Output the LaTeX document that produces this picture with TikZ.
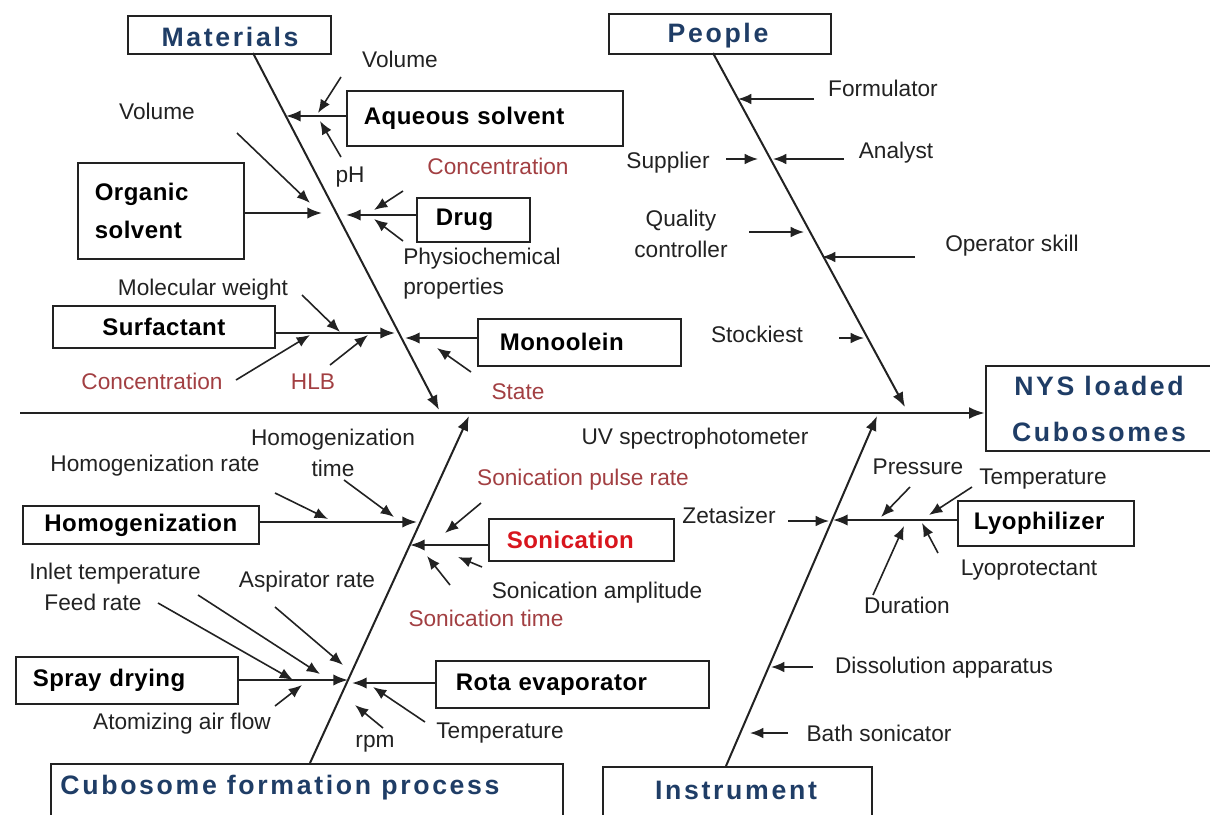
\documentclass[tikz,border=0pt]{standalone}
\usepackage{fontspec}
\setmainfont{Liberation Sans}
\newfontfamily\ttlfamily[LetterSpace=10]{Liberation Sans}
\newfontfamily\boxfamily[LetterSpace=2]{Liberation Sans}
\usetikzlibrary{arrows.meta,calc,positioning}
\definecolor{ttlblue}{HTML}{1F3D66}
\definecolor{lblred}{HTML}{A23F42}
\definecolor{sonred}{HTML}{D8151D}
\definecolor{inkgray}{HTML}{222222}

\begin{document}
\begin{tikzpicture}[x=0.75pt,y=-0.75pt,
  spine/.style={line width=2.1pt,draw=inkgray,-{Latex[length=12pt,width=9pt]}},
  bone/.style={line width=1.5pt,draw=inkgray,-{Latex[length=11pt,width=8.5pt]}},
  cause/.style={line width=1.2pt,draw=inkgray,-{Latex[length=10pt,width=8pt]}},
  ttlbox/.style={draw=inkgray,line width=1.3pt,inner sep=0pt,anchor=north west},
  ttl/.style={font=\ttlfamily\bfseries\fontsize{20}{35}\selectfont,text=ttlblue,inner sep=0pt,align=center},
  catbox/.style={draw=inkgray,line width=1.3pt,anchor=north west,inner ysep=0pt,align=left,
    font=\boxfamily\bfseries\fontsize{18}{29}\selectfont},
  lbl/.style={font=\fontsize{17}{23}\selectfont,text=inkgray,inner sep=0pt,anchor=mid,yshift=-3pt},
  redlbl/.style={lbl,text=lblred}]
  \useasboundingbox (0,0) rectangle (1210,814);

  % category and effect boxes
  \node[ttlbox,minimum width=152.25pt,minimum height=28.5pt] (materials) at (127,15) {};
  \node[ttl] (materialsname) at (230,37) {Materials};
  \node[ttlbox,minimum width=166.5pt,minimum height=30pt] (people) at (608,13) {};
  \node[ttl] (peoplename) at (718,36) {People};
  \node[ttlbox,minimum width=172.5pt,minimum height=63.75pt] (nys) at (985,365) {};
  \node[ttl] (nysname) at (1099,409) {NYS loaded\\Cubosomes};
  \node[ttlbox,minimum width=384pt,minimum height=50.25pt] (process) at (50,763) {};
  \node[ttl] (processname) at (280,788) {Cubosome formation process};
  \node[ttlbox,minimum width=201.75pt,minimum height=48pt] (instrument) at (602,766) {};
  \node[ttl] (instrumentname) at (736,790) {Instrument};

  % cause boxes
  \node[catbox,inner xsep=12.75pt,text width=181.5pt,minimum height=41.25pt] (aqueous) at (346,90) {Aqueous solvent};
  \node[catbox,inner xsep=12.75pt,text width=99pt,minimum height=72pt] (organic) at (77,162) {Organic\\solvent};
  \node[catbox,inner xsep=14.25pt,text width=56.25pt,minimum height=33pt] (drug) at (416,197) {Drug};
  \node[catbox,align=center,inner xsep=7.5pt,text width=151.5pt,minimum height=31.5pt] (surfactant) at (52,305) {Surfactant};
  \node[catbox,inner xsep=16.5pt,text width=119.25pt,minimum height=35.25pt] (monoolein) at (477,318) {Monoolein};
  \node[catbox,align=center,inner xsep=7.5pt,text width=162pt,minimum height=28.5pt] (homog) at (22,505) {Homogenization};
  \node[catbox,text=sonred,inner xsep=13.5pt,text width=111.75pt,minimum height=31.5pt] (sonication) at (488,518) {Sonication};
  \node[catbox,inner xsep=12pt,text width=108pt,minimum height=33.75pt] (lyophilizer) at (957,500) {Lyophilizer};
  \node[catbox,inner xsep=12.75pt,text width=141pt,minimum height=35.25pt] (spray) at (15,656) {Spray drying};
  \node[catbox,inner xsep=15pt,text width=174.75pt,minimum height=35.25pt] (rota) at (435,660) {Rota evaporator};

  % labels
  \node[lbl] (volA) at (400,60) {Volume};
  \node[lbl] (volB) at (157,112) {Volume};
  \node[lbl] (pH) at (350,175) {pH};
  \node[redlbl] (concDrug) at (498,167) {Concentration};
  \node[lbl,anchor=west,align=left,yshift=1pt] (physio) at (403,271) {Physiochemical\\properties};
  \node[lbl] (molw) at (203,288) {Molecular weight};
  \node[redlbl] (concSurf) at (152,382) {Concentration};
  \node[redlbl] (hlb) at (313,382) {HLB};
  \node[redlbl] (state) at (518,392) {State};
  \node[lbl] (formulator) at (883,89) {Formulator};
  \node[lbl] (supplier) at (668,161) {Supplier};
  \node[lbl] (analyst) at (896,151) {Analyst};
  \node[lbl,anchor=center,align=center,yshift=3pt] (quality) at (681,234) {Quality\\controller};
  \node[lbl] (operator) at (1012,244) {Operator skill};
  \node[lbl] (stockiest) at (757,335) {Stockiest};
  \node[lbl,anchor=center,align=center,yshift=3pt] (homtime) at (333,453) {Homogenization\\time};
  \node[lbl] (homrate) at (155,464) {Homogenization rate};
  \node[redlbl] (pulse) at (583,478) {Sonication pulse rate};
  \node[lbl] (amplitude) at (597,591) {Sonication amplitude};
  \node[redlbl] (sontime) at (486,619) {Sonication time};
  \node[lbl] (inlet) at (115,572) {Inlet temperature};
  \node[lbl] (feed) at (93,603) {Feed rate};
  \node[lbl] (aspirator) at (307,580) {Aspirator rate};
  \node[lbl] (atomizing) at (182,722) {Atomizing air flow};
  \node[lbl] (rpm) at (375,740) {rpm};
  \node[lbl] (rotatemp) at (500,731) {Temperature};
  \node[lbl] (uv) at (695,437) {UV spectrophotometer};
  \node[lbl] (zeta) at (729,516) {Zetasizer};
  \node[lbl] (pressure) at (918,467) {Pressure};
  \node[lbl] (lyotemp) at (1043,477) {Temperature};
  \node[lbl] (lyoprot) at (1029,568) {Lyoprotectant};
  \node[lbl] (duration) at (907,606) {Duration};
  \node[lbl] (dissolution) at (944,666) {Dissolution apparatus};
  \node[lbl] (bath) at (879,734) {Bath sonicator};

  % bones and spine
  \coordinate (matTop) at (253,53);    \coordinate (matTip) at (439,410);
  \coordinate (pplTop) at (713,53);    \coordinate (pplTip) at (905,407);
  \coordinate (procFoot) at (310,763); \coordinate (procTip) at (469,416);
  \coordinate (instFoot) at (726,766); \coordinate (instTip) at (877,416);
  \coordinate (spineStart) at (20,413);
  \draw[spine] (spineStart) -- (nys.west |- spineStart);
  \draw[bone] (matTop) -- (matTip);
  \draw[bone] (pplTop) -- (pplTip);
  \draw[bone] (procFoot) -- (procTip);
  \draw[bone] (instFoot) -- (instTip);

  % branches from the cause boxes
  \coordinate (aqTip) at (286,116);   \coordinate (orgTip) at (322,213);
  \coordinate (drugTip) at (346,215); \coordinate (surfTip) at (395,333);
  \coordinate (monoTip) at (405,338); \coordinate (homTip) at (417,522);
  \coordinate (sonTip) at (410,545);  \coordinate (sprayTip) at (348,680);
  \coordinate (rotaTip) at (352,683); \coordinate (lyoTip) at (833,520);
  \draw[bone] (aqueous.west |- aqTip) -- (aqTip);
  \draw[bone] (organic.east |- orgTip) -- (orgTip);
  \draw[bone] (drug.west |- drugTip) -- (drugTip);
  \draw[bone] (surfactant.east |- surfTip) -- (surfTip);
  \draw[bone] (monoolein.west |- monoTip) -- (monoTip);
  \draw[bone] (homog.east |- homTip) -- (homTip);
  \draw[bone] (sonication.west |- sonTip) -- (sonTip);
  \draw[bone] (spray.east |- sprayTip) -- (sprayTip);
  \draw[bone] (rota.west |- rotaTip) -- (rotaTip);
  \draw[bone] (lyophilizer.west |- lyoTip) -- (lyoTip);

  % small cause arrows: tail (-t) and head (-h)
  \path (341,77) coordinate (volA-t) (318,113) coordinate (volA-h)
        (341,157) coordinate (pH-t) (320,121) coordinate (pH-h)
        (237,133) coordinate (volB-t) (310,203) coordinate (volB-h)
        (403,191) coordinate (concDrug-t) (374,210) coordinate (concDrug-h)
        (403,241) coordinate (physio-t) (374,219) coordinate (physio-h)
        (302,295) coordinate (molw-t) (340,332) coordinate (molw-h)
        (236,380) coordinate (concSurf-t) (310,335) coordinate (concSurf-h)
        (330,365) coordinate (hlb-t) (368,335) coordinate (hlb-h)
        (471,372) coordinate (state-t) (437,348) coordinate (state-h);
  \path (814,99) coordinate (formulator-t) (738,99) coordinate (formulator-h)
        (726,159) coordinate (supplier-t) (758,159) coordinate (supplier-h)
        (844,159) coordinate (analyst-t) (773,159) coordinate (analyst-h)
        (749,232) coordinate (quality-t) (804,232) coordinate (quality-h)
        (915,257) coordinate (operator-t) (822,257) coordinate (operator-h)
        (839,338) coordinate (stockiest-t) (864,338) coordinate (stockiest-h);
  \path (275,493) coordinate (homrate-t) (328,519) coordinate (homrate-h)
        (344,480) coordinate (homtime-t) (394,517) coordinate (homtime-h)
        (481,503) coordinate (pulse-t) (445,533) coordinate (pulse-h)
        (482,567) coordinate (amplitude-t) (458,557) coordinate (amplitude-h)
        (450,585) coordinate (sontime-t) (427,556) coordinate (sontime-h)
        (198,595) coordinate (inlet-t) (320,674) coordinate (inlet-h)
        (158,603) coordinate (feed-t) (293,680) coordinate (feed-h)
        (275,607) coordinate (aspirator-t) (343,665) coordinate (aspirator-h)
        (275,706) coordinate (atomizing-t) (302,685) coordinate (atomizing-h)
        (383,728) coordinate (rpm-t) (355,705) coordinate (rpm-h)
        (425,722) coordinate (rotatemp-t) (373,687) coordinate (rotatemp-h);
  \path (788,521) coordinate (zeta-t) (829,521) coordinate (zeta-h)
        (910,487) coordinate (pressure-t) (881,517) coordinate (pressure-h)
        (972,487) coordinate (lyotemp-t) (929,515) coordinate (lyotemp-h)
        (938,553) coordinate (lyoprot-t) (922,523) coordinate (lyoprot-h)
        (873,595) coordinate (duration-t) (904,526) coordinate (duration-h)
        (813,667) coordinate (dissolution-t) (771,667) coordinate (dissolution-h)
        (788,733) coordinate (bath-t) (750,733) coordinate (bath-h);
  \foreach \c in {volA,pH,volB,concDrug,physio,molw,concSurf,hlb,state,
                  formulator,supplier,analyst,quality,operator,stockiest,
                  homrate,homtime,pulse,amplitude,sontime,inlet,feed,aspirator,atomizing,rpm,rotatemp,
                  zeta,pressure,lyotemp,lyoprot,duration,dissolution,bath}
    \draw[cause] (\c-t) -- (\c-h);
\end{tikzpicture}
\end{document}
